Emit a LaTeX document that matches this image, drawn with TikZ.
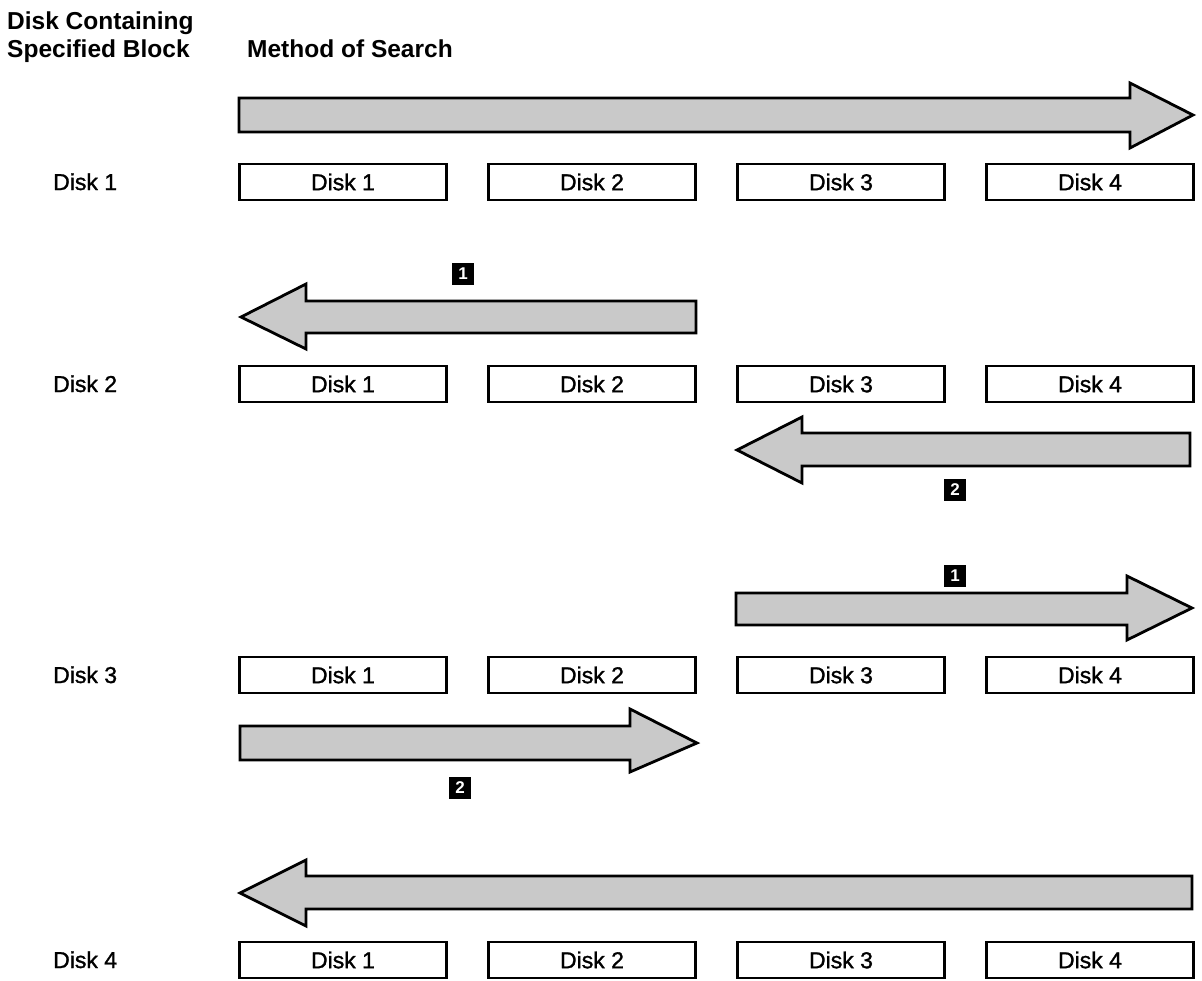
\documentclass[tikz,border=0pt]{standalone}
\usepackage{fontspec}
\setmainfont{Liberation Sans}
\newfontfamily\diskfont{Liberation Sans}[FakeBold=1.3]
\begin{document}
\begin{tikzpicture}[x=1pt,y=-1pt,
  disk/.style={draw, line width=2.8pt, minimum width=207pt, minimum height=36pt,
    inner sep=0pt, font=\diskfont\fontsize{23}{27}\selectfont},
  rowlabel/.style={anchor=base west, inner sep=0pt, font=\diskfont\fontsize{23}{27}\selectfont},
  head/.style={anchor=base west, inner sep=0pt, font=\bfseries\fontsize{24.5}{28}\selectfont},
  searcharrow/.style={draw, line width=2.8pt, line join=miter, fill=black!21},
  stepno/.style={fill=black, text=white, minimum size=22pt, inner sep=0pt,
    font=\bfseries\fontsize{17}{17}\selectfont}]
\useasboundingbox (0,0) rectangle (1202,980);

% column headings
\node[head] (h1) at (7,29) {Disk Containing};
\node[head] (h2) at (7,57) {Specified Block};
\node[head] (h3) at (247,57) {Method of Search};

% row labels
\node[rowlabel] (l1) at (53,190) {Disk 1};
\node[rowlabel] (l2) at (53,392) {Disk 2};
\node[rowlabel] (l3) at (53,683) {Disk 3};
\node[rowlabel] (l4) at (53,968) {Disk 4};

% rows of disks
\foreach \r/\y in {1/182,2/384,3/675,4/960}{
  \node[disk] (d\r a) at (343,\y) {Disk 1};
  \node[disk] (d\r b) at (592,\y) {Disk 2};
  \node[disk] (d\r c) at (841,\y) {Disk 3};
  \node[disk] (d\r d) at (1090,\y) {Disk 4};
}

% row 1: search to the right over all disks
\draw[searcharrow] (239,98) -- (1130,98) -- (1130,83) -- (1193,115)
  -- (1130,148) -- (1130,132) -- (239,132) -- cycle;

% row 2: leftwards from disk 2, then leftwards from disk 4
\node[stepno] (s21) at (463,274) {1};
\draw[searcharrow] (696,301) -- (306,301) -- (306,284) -- (241,317)
  -- (306,349) -- (306,333) -- (696,333) -- cycle;
\draw[searcharrow] (1190,433) -- (802,433) -- (802,417) -- (737,450)
  -- (802,483) -- (802,466) -- (1190,466) -- cycle;
\node[stepno] (s22) at (955,490) {2};

% row 3: rightwards from disk 3, then rightwards from disk 1
\node[stepno] (s31) at (955,576) {1};
\draw[searcharrow] (736,593) -- (1127,593) -- (1127,576) -- (1192,608)
  -- (1127,640) -- (1127,625) -- (736,625) -- cycle;
\draw[searcharrow] (240,726) -- (630,726) -- (630,709) -- (697,743)
  -- (630,772) -- (630,760) -- (240,760) -- cycle;
\node[stepno] (s32) at (460,788) {2};

% row 4: search to the left over all disks
\draw[searcharrow] (1192,876) -- (306,876) -- (306,860) -- (240,893)
  -- (306,926) -- (306,909) -- (1192,909) -- cycle;
\end{tikzpicture}
\end{document}
